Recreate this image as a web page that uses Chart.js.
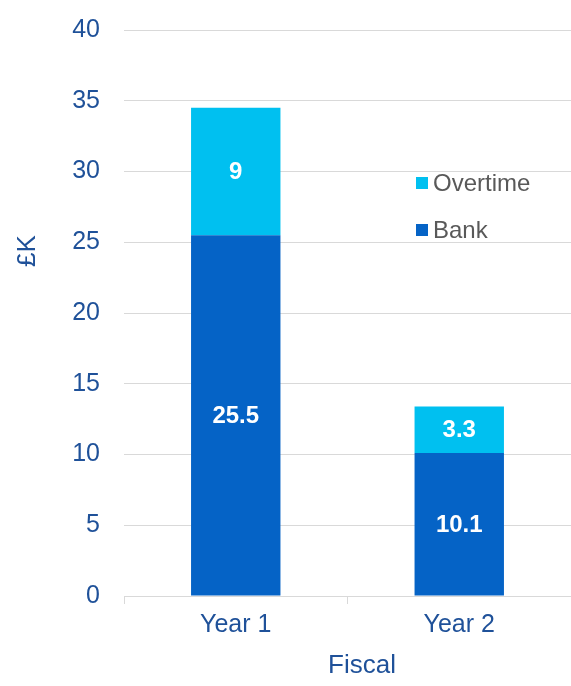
<!DOCTYPE html>
<html lang="en">
<head>
  <meta charset="UTF-8" />
  <title>Bank and Overtime</title>
  <script src="https://cdn.jsdelivr.net/npm/chart.js"></script>
  <style>
    html, body { margin: 0; padding: 0; background: #fff; }
    #wrap { width: 571px; height: 686px; }
  </style>
</head>
<body>
  <div id="wrap"><canvas id="chart" width="571" height="686"></canvas></div>

  <script>
    const categories = ["Year 1", "Year 2"];
    const bankValues = [25.5, 10.1];
    const overtimeValues = [9, 3.3];
    const yTicks = [0, 5, 10, 15, 20, 25, 30, 35, 40];

    const axisBlue = "#1F5199";
    const fontFamily = "'Liberation Sans', Arial, sans-serif";

    // white numbers in the middle of each bar piece
    const barLabels = {
      id: "barLabels",
      afterDatasetsDraw(chart) {
        const ctx = chart.ctx;
        ctx.save();
        ctx.fillStyle = "#fff";
        ctx.font = "bold 24px " + fontFamily;
        ctx.textAlign = "center";
        ctx.textBaseline = "middle";
        chart.data.datasets.forEach((ds, i) => {
          chart.getDatasetMeta(i).data.forEach((bar, j) => {
            const y = (bar.y + bar.base) / 2;
            ctx.fillText(String(ds.data[j]), bar.x, y + 1);
          });
        });
        ctx.restore();
      }
    };

    // legend + axis titles drawn where the original puts them
    const extras = {
      id: "extras",
      afterDraw(chart) {
        const ctx = chart.ctx;
        ctx.save();
        const items = chart.data.datasets.slice().reverse();
        ctx.font = "24px " + fontFamily;
        ctx.textBaseline = "middle";
        ctx.textAlign = "left";
        items.forEach((ds, i) => {
          const y = 183 + i * 47;
          ctx.fillStyle = ds.backgroundColor;
          ctx.fillRect(416, y - 6, 12, 12);
          ctx.fillStyle = "#595959";
          ctx.fillText(ds.label, 433, y + 1);
        });

        ctx.fillStyle = axisBlue;
        ctx.font = "26px " + fontFamily;
        ctx.textAlign = "center";
        ctx.fillText("Fiscal", 362, 666);

        ctx.translate(28, 251);
        ctx.rotate(-Math.PI / 2);
        ctx.fillText("£K", 0, 0);
        ctx.restore();
      }
    };

    new Chart(document.getElementById("chart"), {
      type: "bar",
      data: {
        labels: categories,
        datasets: [
          {
            label: "Bank",
            data: bankValues,
            backgroundColor: "#0563C6",
            barPercentage: 0.4,
            categoryPercentage: 1
          },
          {
            label: "Overtime",
            data: overtimeValues,
            backgroundColor: "#00C0F0",
            barPercentage: 0.4,
            categoryPercentage: 1
          }
        ]
      },
      options: {
        responsive: false,
        animation: false,
        layout: { padding: { top: 30, right: 0, left: 0, bottom: 0 } },
        plugins: {
          legend: { display: false },
          tooltip: { enabled: false }
        },
        scales: {
          x: {
            stacked: true,
            grid: {
              drawOnChartArea: false,
              drawTicks: true,
              tickLength: 8,
              color: "#d9d9d9"
            },
            border: { color: "#d9d9d9" },
            ticks: {
              color: axisBlue,
              font: { size: 25, family: fontFamily },
              padding: 6
            },
            afterFit(scale) {
              scale.height = 90;
              scale.paddingLeft = 0;
              scale.paddingRight = 0;
            }
          },
          y: {
            stacked: true,
            min: 0,
            max: 40,
            afterBuildTicks(scale) {
              scale.ticks = yTicks.map(v => ({ value: v }));
            },
            grid: { color: "#d9d9d9", drawTicks: false },
            border: { display: false },
            ticks: {
              color: axisBlue,
              font: { size: 25, family: fontFamily },
              padding: 24
            },
            afterFit(scale) {
              scale.width = 124;
              scale.paddingTop = 0;
              scale.paddingBottom = 0;
            }
          }
        }
      },
      plugins: [barLabels, extras]
    });
  </script>
</body>
</html>
